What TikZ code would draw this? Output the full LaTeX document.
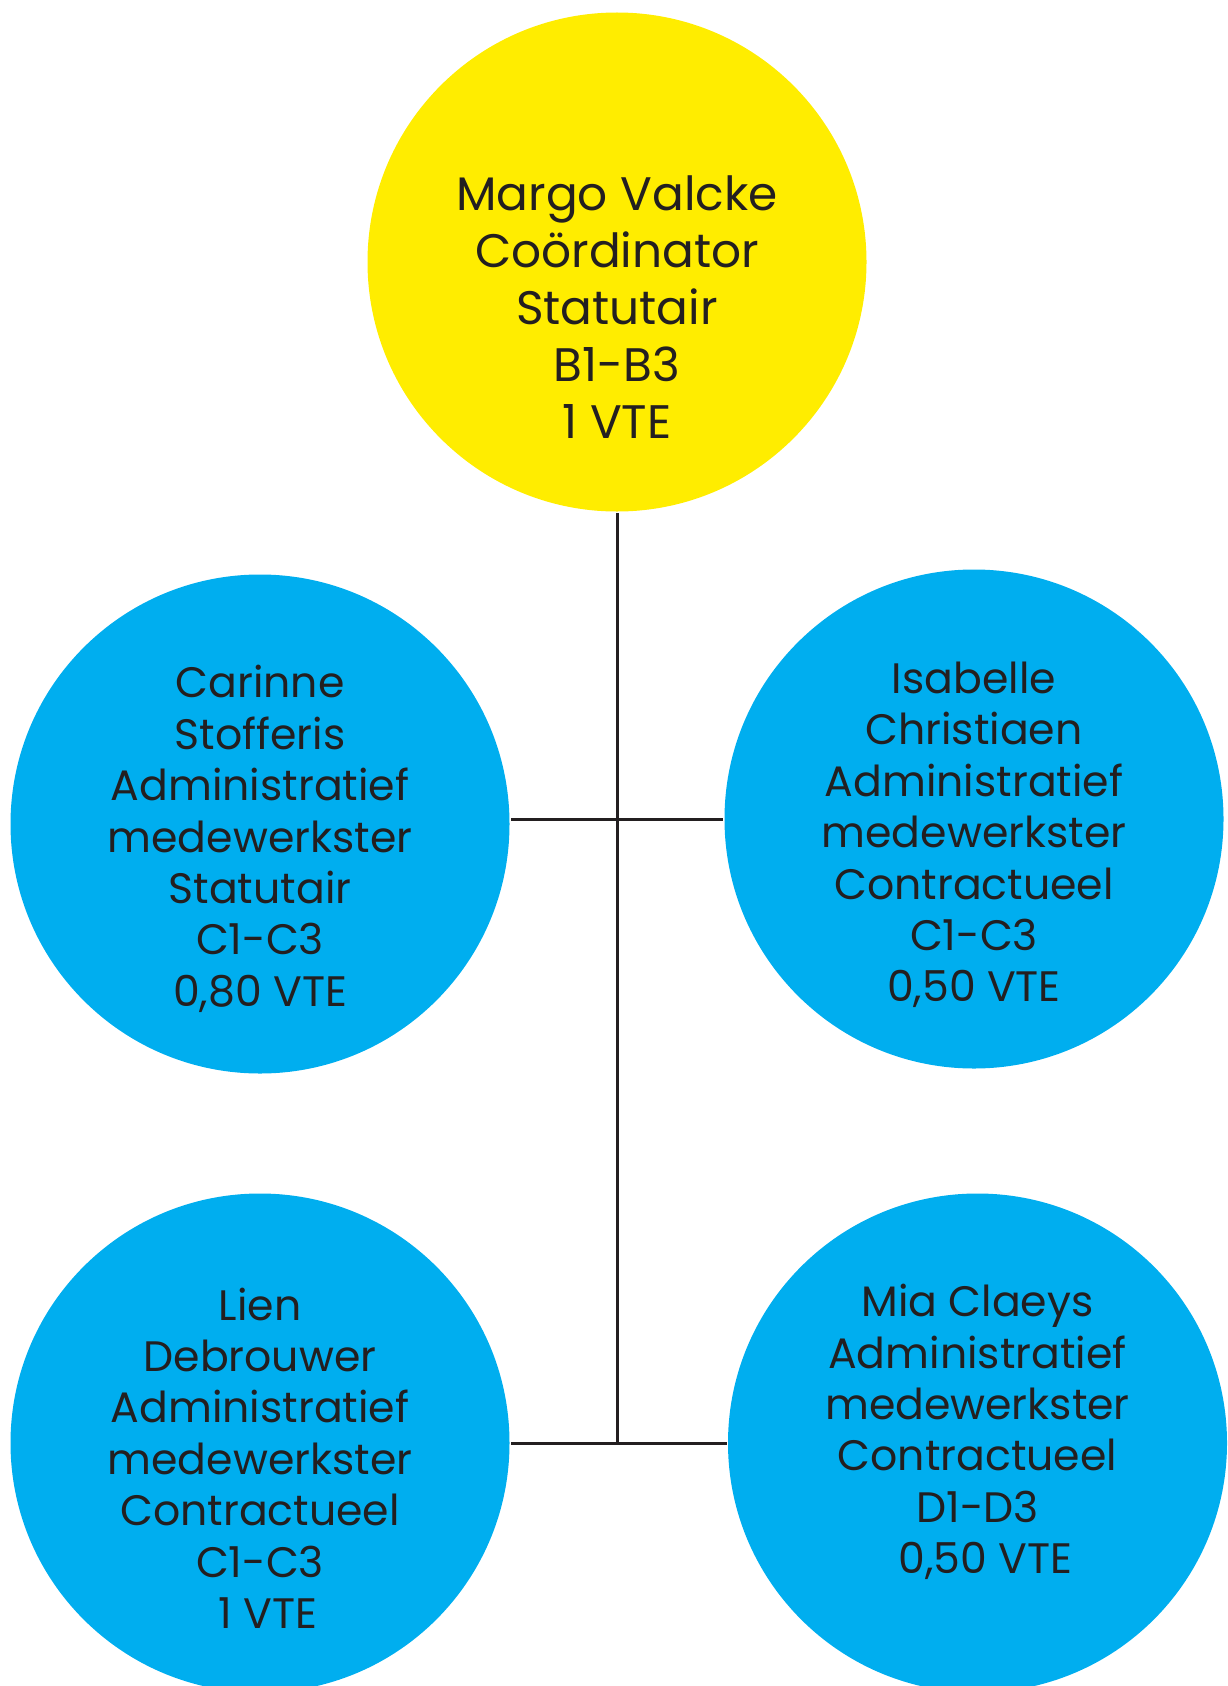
\documentclass[tikz,border=0pt]{standalone}
\usepackage{fontspec}
\setmainfont{Poppins}
\definecolor{geel}{HTML}{FFED00}
\definecolor{blauw}{HTML}{00AEEF}
\definecolor{tekst}{HTML}{231F20}

\begin{document}
\begin{tikzpicture}[x=0.5pt, y=-0.5pt, line width=1.5pt,
  circ/.style={circle, minimum size=249.5pt, inner sep=0pt},
  big/.style={text=tekst, align=center, font=\fontsize{23.5}{28.5}\selectfont},
  small/.style={text=tekst, align=center, font=\fontsize{21.3}{25.7}\selectfont}]
\clip (0,0) rectangle (1227,1686);

\node (margo) [circ, fill=geel] at (617,262) {};
\node (carinne) [circ, fill=blauw] at (260,824) {};
\node (isabelle) [circ, fill=blauw] at (974,819) {};
\node (lien) [circ, fill=blauw] at (260,1443) {};
\node (mia) [circ, fill=blauw] at (977.5,1443) {};

\node (margo-t) [big] at (617,307) {Margo Valcke\\Coördinator\\Statutair\\B1-B3\\1 VTE};
\node (carinne-t) [small] at (260,839) {Carinne\\Stofferis\\Administratief\\medewerkster\\Statutair\\C1-C3\\0,80 VTE};
\node (isabelle-t) [small] at (974,835) {Isabelle\\Christiaen\\Administratief\\medewerkster\\Contractueel\\C1-C3\\0,50 VTE};
\node (lien-t) [small] at (260,1458) {Lien\\Debrouwer\\Administratief\\medewerkster\\Contractueel\\C1-C3\\\hspace{8pt}1 VTE};
\node (mia-t) [small] at (977.5,1432) {Mia Claeys\\Administratief\\medewerkster\\Contractueel\\D1-D3\\\hspace{8pt}0,50 VTE};

\coordinate (j1) at (617,819);
\coordinate (j2) at (617,1443);

\draw[tekst] (margo) -- (j2);
\draw[tekst] (j1 -| carinne.east) -- (j1 -| isabelle.west);
\draw[tekst] (lien) -- (mia);
\end{tikzpicture}
\end{document}
